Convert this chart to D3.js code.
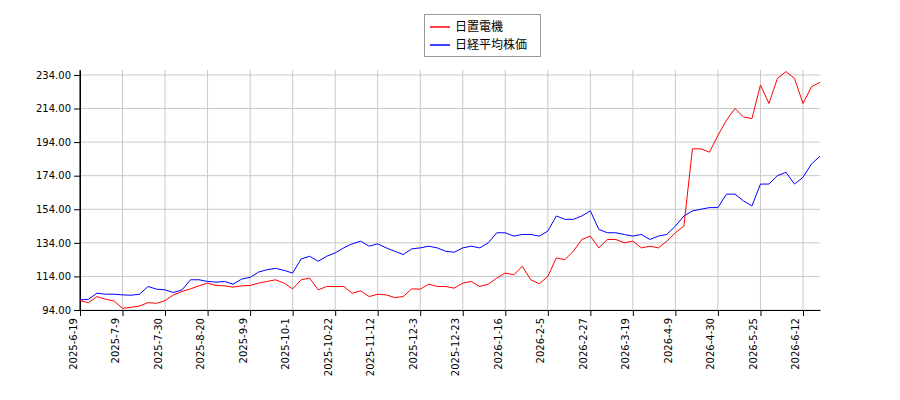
<!DOCTYPE html>
<html><head><meta charset="utf-8">
<script src="https://cdn.jsdelivr.net/npm/d3@7"></script>
<style>body{margin:0;background:#fff;font-family:"DejaVu Sans",sans-serif;}</style>
</head><body><svg id="c" width="900" height="400"></svg>
<script>
const tickLabels = ["2025-6-19","2025-7-9","2025-7-30","2025-8-20","2025-9-9","2025-10-1","2025-10-22","2025-11-12","2025-12-3","2025-12-23","2026-1-16","2026-2-5","2026-2-27","2026-3-19","2026-4-9","2026-4-30","2026-5-25","2026-6-12"];
const yTicks = [94,114,134,154,174,194,214,234];
const hioki = [99.6,98.4,102,100.4,99.4,95,95.6,96.4,98.4,98,99.6,103,105,106.6,108.4,110,108.6,108.4,107.6,108.4,108.6,110,111,112,110,106.6,112,113,106,108,108,108,104,105.4,102,103.4,103,101.4,102,106.6,106.4,109.4,108,108,107,110,111,108,109.4,113,116,115,120,112,109.6,114,125,124,129,136,138,131,136,136,134,135,131,132,131,135,140,144,190,190,188,198,207,214,209,208,228,217,232,236,232,217,227,229.6];
const nikkei = [100,100.4,104,103.4,103.4,103,102.8,103.4,108,106.4,106,104.4,106,112,112,111,110.6,111,109.4,112.4,113.4,116.6,118,118.8,117.6,116,124.4,126,123,126,128,131,133.4,135,132,133.4,131,129,127,130.4,131,132,131,129,128.4,131,132,131,134,140,140,138,139,139,138,141,150,148,148,150,153,142,140,140,139,138,139,136,138,139,144,150,153,154,155,155,163,163,159,156,169,169,174,176,169,173,181,185.6];
const svg = d3.select("#c");
const x = d3.scaleLinear().domain([0, nikkei.length-1]).range([80,820]);
const y = d3.scaleLinear().domain([94, 94+240/1.679]).range([310,70]);
const g = svg.append("g");
// grid
g.selectAll(".gy").data(yTicks).enter().append("line").attr("x1",80).attr("x2",820)
 .attr("y1",d=>y(d)).attr("y2",d=>y(d)).attr("stroke","#c8c8c8");
const tIdx = tickLabels.map((_,i)=>i*5);
g.selectAll(".gx").data(tIdx).enter().append("line").attr("y1",70).attr("y2",310)
 .attr("x1",d=>x(d)).attr("x2",d=>x(d)).attr("stroke","#c8c8c8");
// axes
const ya = svg.append("g").attr("transform","translate(80,0)")
 .call(d3.axisLeft(y).tickValues(yTicks).tickFormat(d3.format(".2f")).tickSizeOuter(0));
const xa = svg.append("g").attr("transform","translate(0,310)")
 .call(d3.axisBottom(x).tickValues(tIdx).tickFormat((d,i)=>tickLabels[i]).tickSizeOuter(0));
xa.selectAll("text").attr("transform","rotate(-90)").attr("text-anchor","end")
 .attr("x",-8).attr("y",-4).attr("dy","0");
[ya,xa].forEach(a=>{a.selectAll("text").attr("font-family","DejaVu Sans").attr("font-size",10).attr("fill","#000");
 a.selectAll("line,path").attr("stroke","#000");});
svg.append("line").attr("x1",80).attr("x2",80).attr("y1",70).attr("y2",310).attr("stroke","#000");
const line = d3.line().x((d,i)=>x(i)).y(d=>y(d));
svg.append("path").datum(nikkei).attr("d",line).attr("fill","none").attr("stroke","#0000ff").attr("stroke-width",1);
svg.append("path").datum(hioki).attr("d",line).attr("fill","none").attr("stroke","#ff0000").attr("stroke-width",1);
// legend
const lg = svg.append("g");
lg.append("rect").attr("x",424.5).attr("y",14.5).attr("width",116).attr("height",42).attr("fill","#fff").attr("stroke","#999");
[["日置電機","#ff0000"],["日経平均株価","#0000ff"]].forEach((s,i)=>{
 lg.append("line").attr("x1",430).attr("x2",450).attr("y1",27+i*18).attr("y2",27+i*18).attr("stroke",s[1]).attr("stroke-width",1.5);
 lg.append("text").attr("x",455).attr("y",31+i*18).text(s[0]).attr("font-size",12).attr("font-family","Noto Sans CJK JP").attr("fill","#000");
});
</script></body></html>
